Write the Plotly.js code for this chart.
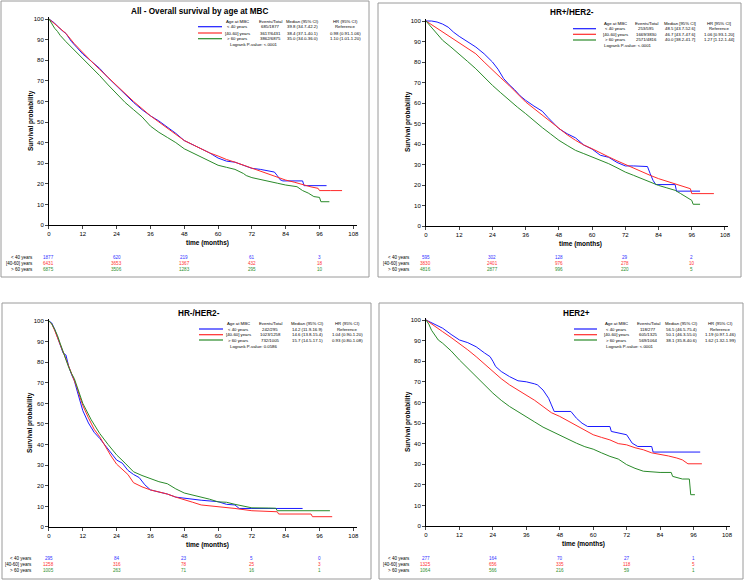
<!DOCTYPE html>
<html><head><meta charset="utf-8">
<script src="https://cdn.plot.ly/plotly-3.0.1.min.js"></script>
<style>html,body{margin:0;padding:0;background:#fff}#c{width:745px;height:581px}</style>
</head><body><div id="c"></div>
<script>
// ---------------- DATA ----------------
const groups = ['< 40 years','[40-60] years','> 60 years'];
const riskTimes = [0,24,48,72,96];

// Panel 1: All
const all_t_lt40 = [0,1,2,3,4,5,6,7,8,10,12,15,18,21,24,27,30,33,36,39,42,45,48,51,54,57,60,63,66,69,72,75,78,80,81,82,83,86,90,90.5,93,98.5];
const all_s_lt40 = [100,99,98,96.5,95,94,93,91,89,86,83,79.5,76,71.5,67.5,63,59.5,56,53,50.5,47.5,44.5,41,39,37,35,32.5,31,30.5,29,27.5,27,26,25.7,24,22,21.4,21.4,21.4,19.1,19.1,19.1];
const all_t_mid = [0,3,6,9,12,15,18,21,24,27,30,33,36,39,42,45,48,51,54,57,60,63,66,69,72,75,78,81,84,87,90,93,95.5,96,100,104];
const all_s_mid = [100,96.5,93,88,83.5,79.5,75.5,71.5,67.5,63.5,60,56.5,53,50,47,44,41,39,37,35,33.5,31.8,30.5,29,27.5,26,24.5,23,21.8,20.8,19.5,18.5,17.8,16.7,16.7,16.7];
const all_t_gt60 = [0,1,2,3,4,6,9,12,15,18,21,24,27,30,33,36,39,42,45,48,51,54,57,60,63,66,69,70,72,75,78,81,84,87,88,90,92,94,96,96.5,99.5];
const all_s_gt60 = [100,97.5,95.5,94,92,89,85,80.5,76.5,72.5,68,63.5,59.5,56,52.5,48,45,42.5,40,37,35,33,31,29,28,27,25,24,23,22,21,20.3,19.4,19,18.6,16.7,15.5,13.8,13.4,11.3,11.3];
const all_risk_lt40 = [1877,620,219,61,3];
const all_risk_mid = [6431,3653,1367,432,18];
const all_risk_gt60 = [6875,3506,1283,295,10];
const all_events = ['685/1877','3617/6431','3862/6875'];
const all_median = ['39.8 (34.7-42.2)','38.4 (37.1-40.1)','35.0 (34.0-36.0)'];
const all_hr = ['Reference','0.98 (0.91-1.06)','1.10 (1.01-1.20)'];
const all_logrank = 'Logrank P-value: <.0001';

// Panel 2: HR+/HER2-
const hrp_t_lt40 = [0,2,4,6,8,10,12,15,18,21,24,26,28,30,32,34,36,39,42,44,46,48,51,54,57,60,63,66,69,72,75,78,80,81,82,83,86,90,90.5,94,99];
const hrp_s_lt40 = [100,100,99.5,98.5,97,94.5,92.5,90,87.3,84,80,76.5,72,69,66.5,63.5,61.3,58.5,56,53,50.5,47.5,45,43,39.5,37.5,34.5,33.5,31,29.3,29.3,29.3,29,25.5,22.3,20.2,20.2,20.2,17,17,17];
const hrp_t_mid = [0,3,6,9,12,15,18,21,24,27,30,33,36,39,42,45,48,51,54,57,60,63,66,69,72,75,78,81,84,87,90,93,95.5,96,100,104];
const hrp_s_mid = [100,97.3,94.6,92,89.3,86.8,84,80,76,72.3,68.6,64.5,60.5,57.3,54,50.7,47.5,44.5,41.8,39.5,37.7,35.5,33.7,31.8,30,28,26.3,24.7,23.1,21.8,20.6,19.3,18.2,15.8,15.8,15.8];
const hrp_t_gt60 = [0,3,6,9,12,15,18,21,24,27,30,33,36,39,42,45,48,51,54,57,60,63,66,69,72,75,78,81,84,87,90,92,94,96,96.5,99];
const hrp_s_gt60 = [100,95.2,90.6,87.3,84,80.3,76.7,72.6,68.6,65,61.3,58,54.8,51.3,48,44.9,41.8,39.3,36.9,35.3,33.7,32,30.4,28.4,26.3,24.7,23.1,21.5,19.8,18.6,17.4,15.8,14.1,12.5,10.6,10.6];
const hrp_risk_lt40 = [595,302,128,29,2];
const hrp_risk_mid = [3830,2401,976,278,10];
const hrp_risk_gt60 = [4816,2877,996,220,5];
const hrp_events = ['253/595','1669/3830','2571/4816'];
const hrp_median = ['48.5 [43.7-52.6]','46.7 [43.7-47.6]','40.0 [38.2-41.7]'];
const hrp_hr = ['Reference','1.06 [0.93-1.20]','1.27 [1.12-1.44]'];
const hrp_logrank = 'Logrank P-value: <.0001';

// Panel 3: HR-/HER2-
const hrn_t_lt40 = [0,1,2,3,4,5,6,7,8,9,10,11,12,14,16,18,20,22,24,26,28,30,32,34,36,39,42,45,48,54,60,63,66,67.5,72,80,90];
const hrn_s_lt40 = [100,99,96,92,88,84.5,83.5,78,74,71,66,61,56.5,50.5,46,43,39.5,35.5,32.5,31,27.5,25.5,24,20.5,18,17,16,14.5,13.9,13,12.3,11,10.7,9,9,9,9];
const hrn_t_mid = [0,1,2,3,4,5,6,7,8,9,10,11,12,14,16,18,20,22,24,26,28,30,33,36,39,42,45,48,51,54,57,60,66,72,78,81,81.5,90,93,93.5,100.5];
const hrn_s_mid = [100,98.5,95.5,92,88.5,85,82,78.5,75,71.5,67.5,63,59,53,47.5,43.8,39,34.5,30.5,28,25.5,21.5,19.5,18,17,16,14.5,13.4,12,10.7,10.3,9.9,9,7.9,7.5,7.4,6.3,6.3,6.3,5,5];
const hrn_t_gt60 = [0,1,2,3,4,5,6,7,8,9,10,11,12,15,18,21,24,27,30,33,36,39,42,45,48,51,54,57,60,63,66,72,78,80.5,81,90,99.7];
const hrn_s_gt60 = [100,98.5,96,93,89,85,81.5,77.5,74.5,72,68,64,60,52,45.4,40,35,31,26.8,25,23.6,22,21,18.5,16.5,15.5,14.7,13.5,12.2,12,11,9.3,9.2,9.1,7.9,7.9,7.9];
const hrn_risk_lt40 = [295,84,23,5,0];
const hrn_risk_mid = [1258,316,78,25,3];
const hrn_risk_gt60 = [1005,263,71,16,1];
const hrn_events = ['242/295','1023/1258','732/1005'];
const hrn_median = ['14.2 (11.9-16.9)','14.6 (13.8-15.4)','15.7 (14.5-17.1)'];
const hrn_hr = ['Reference','1.04 (0.90-1.20)','0.93 (0.80-1.08)'];
const hrn_logrank = 'Logrank P-value: 0.0586';

// Panel 4: HER2+
const her_t_lt40 = [0,3,6,9,12,15,18,21,23,24,25,27,30,33,36,39,40,42,44,45,46,52,54,56,58,66,66.5,72,73,74,76,81,81.5,98.4];
const her_s_lt40 = [100,98,96,93,90.3,89,87,84,82.2,80,77.4,75,72.5,70.5,70,69,68.5,66,62,58.8,55.6,55.6,52.3,49.9,48.3,48.3,45.9,44.3,42,40.2,38.6,38.6,35.9,35.9];
const her_t_mid = [0,3,6,9,12,15,18,21,24,27,30,33,36,39,42,45,48,51,54,57,60,63,66,69,72,75,78,81,84,87,90,92,94,99];
const her_s_mid = [100,97,94.3,91.5,88.7,85.5,82.2,78.5,75,71.5,68.5,66,63.7,61,58,55,53.2,51,48.6,46.5,44.3,43,41.8,40,39.4,38,37,35.5,34.9,34,33,32.1,30.2,30.2];
const her_t_gt60 = [0,1,2,3,4.4,6,9,12,15,18,21,24,27,30,33,36,39,42,45,48,51,54,57,60,63,66,69,72,75,78,84,88,88.5,92,94.5,95,96.5];
const her_s_gt60 = [100,98,95,93,90.3,88.7,85,80.6,76.5,72.5,68.5,64.5,61,58,55.5,53.2,50.5,48,46,44.3,42,40.2,38.5,37.3,35.5,33.8,32.5,29.8,28,26.6,26,26,24.1,22.8,22.8,15.2,15.2];
const her_risk_lt40 = [277,164,70,27,1];
const her_risk_mid = [1325,656,335,118,5];
const her_risk_gt60 = [1064,566,216,59,1];
const her_events = ['118/277','605/1325','569/1064'];
const her_median = ['56.5 (46.5-75.4)','50.1 (46.3-55.0)','38.1 (35.8-40.6)'];
const her_hr = ['Reference','1.19 (0.97-1.46)','1.62 (1.32-1.99)'];
const her_logrank = 'Logrank P-value: <.0001';

const titles = ['All - Overall survival by age at MBC','HR+/HER2-','HR-/HER2-','HER2+'];
const xTicks = [0,12,24,36,48,60,72,84,96,108];
const yTicks = [0,10,20,30,40,50,60,70,80,90,100];

// ---------------- BUILD ----------------
const W=745,H=581;
const px=x=>x/W, py=y=>1-y/H;
const lineColors = ['#1a1aff','#ff2a2a','#2a8a2a'];
const textColors = ['#3333ff','#ff3333','#2f8f2f'];
const FONT = 'Liberation Sans, Arial, sans-serif';

const panels = [
 {curves:[[all_t_lt40,all_s_lt40],[all_t_mid,all_s_mid],[all_t_gt60,all_s_gt60]],
  risk:[all_risk_lt40,all_risk_mid,all_risk_gt60], events:all_events, median:all_median, hr:all_hr, logrank:all_logrank,
  hdr:['Age at MBC','Events/Total','Median (95% CI)','HR (95% CI)']},
 {curves:[[hrp_t_lt40,hrp_s_lt40],[hrp_t_mid,hrp_s_mid],[hrp_t_gt60,hrp_s_gt60]],
  risk:[hrp_risk_lt40,hrp_risk_mid,hrp_risk_gt60], events:hrp_events, median:hrp_median, hr:hrp_hr, logrank:hrp_logrank,
  hdr:['Age at MBC','Events/Total','Median [95% CI]','HR [95% CI]']},
 {curves:[[hrn_t_lt40,hrn_s_lt40],[hrn_t_mid,hrn_s_mid],[hrn_t_gt60,hrn_s_gt60]],
  risk:[hrn_risk_lt40,hrn_risk_mid,hrn_risk_gt60], events:hrn_events, median:hrn_median, hr:hrn_hr, logrank:hrn_logrank,
  hdr:['Age at MBC','Events/Total','Median (95% CI)','HR (95% CI)']},
 {curves:[[her_t_lt40,her_s_lt40],[her_t_mid,her_s_mid],[her_t_gt60,her_s_gt60]],
  risk:[her_risk_lt40,her_risk_mid,her_risk_gt60], events:her_events, median:her_median, hr:her_hr, logrank:her_logrank,
  hdr:['Age at MBC','Events/Total','Median (95% CI)','HR (95% CI)']}
];

// geometry (pixels)
const geo = [
 {xd:[0.06577,0.47879], yd:[0.61274,0.97084], box:[1,1,369,277], title:[200,11], xt:[207,243], yt:[31,121],
  lineX:[198,222], cols:[237,270,302,345], rowsY:[21,26.7,33,38.7], logY:44.3, logX:228, labelX:35, riskY:[257,263,269]},
 {xd:[0.57181,0.97758], yd:[0.61102,0.96738], box:[378,3,741,277], title:[572,13], xt:[580,243.7], yt:[408,122],
  lineX:[573,596], cols:[615,646,680,719], rowsY:[23.3,28.7,34.3,40], logY:45.7, logX:602, labelX:412, riskY:[257,263,269]},
 {xd:[0.06577,0.47879], yd:[0.09294,0.45105], box:[2,303,371,579], title:[199,313], xt:[207,545], yt:[30,422],
  lineX:[199,223], cols:[238,270,307,347], rowsY:[323.3,329,334.7,340], logY:346, logX:228, labelX:34, riskY:[558,564,570.5]},
 {xd:[0.57181,0.98027], yd:[0.09466,0.45277], box:[379,303,743,579], title:[576,313], xt:[583,544], yt:[408,422],
  lineX:[574,597], cols:[616,648,681,720], rowsY:[323.3,329,334.7,340], logY:346, logX:604, labelX:412, riskY:[558,564,570]}
];

const traces=[], annotations=[], shapes=[];
const layout = {width:W,height:H,margin:{l:0,r:0,t:0,b:0},paper_bgcolor:'#fff',plot_bgcolor:'#fff',
  showlegend:false,font:{family:FONT,color:'#000'}};

panels.forEach((p,i)=>{
  const g=geo[i]; const sfx = i===0?'':String(i+1);
  const xa='x'+sfx, ya='y'+sfx;
  layout['xaxis'+sfx] = {domain:g.xd, anchor:ya, range:[0,109.2], tickvals:xTicks, ticks:'outside', ticklen:3, tickwidth:1,
    showline:true, linecolor:'#000', linewidth:1, showgrid:false, zeroline:false, tickfont:{size:6,family:FONT}, fixedrange:true};
  layout['yaxis'+sfx] = {domain:g.yd, anchor:xa, range:[0,101], tickvals:yTicks, ticks:'outside', ticklen:3, tickwidth:1,
    showline:true, linecolor:'#000', linewidth:1, showgrid:false, zeroline:false, tickfont:{size:6,family:FONT}, fixedrange:true};
  p.curves.forEach((c,k)=>{
    traces.push({x:c[0],y:c[1],xaxis:xa,yaxis:ya,mode:'lines',line:{color:lineColors[k],width:1},hoverinfo:'skip',showlegend:false});
  });
  // border
  shapes.push({type:'rect',xref:'paper',yref:'paper',x0:px(g.box[0]),x1:px(g.box[2]),y0:py(g.box[1]),y1:py(g.box[3]),line:{color:'#9a9a9a',width:1}});
  // title
  annotations.push({xref:'paper',yref:'paper',x:px(g.title[0]),y:py(g.title[1]),text:'<b>'+titles[i]+'</b>',showarrow:false,
    xanchor:'center',yanchor:'middle',font:{size:8.2,family:FONT}});
  // axis titles
  annotations.push({xref:'paper',yref:'paper',x:px(g.xt[0]),y:py(g.xt[1]),text:'<b>time (months)</b>',showarrow:false,
    xanchor:'center',yanchor:'middle',font:{size:6.5,family:FONT}});
  annotations.push({xref:'paper',yref:'paper',x:px(g.yt[0]),y:py(g.yt[1]),text:'<b>Survival probability</b>',showarrow:false,textangle:-90,
    xanchor:'center',yanchor:'middle',font:{size:6.5,family:FONT}});
  // legend header
  p.hdr.forEach((h,j)=>annotations.push({xref:'paper',yref:'paper',x:px(g.cols[j]),y:py(g.rowsY[0]),text:h,showarrow:false,
    xanchor:'center',yanchor:'middle',font:{size:4.3,family:FONT}}));
  groups.forEach((gr,k)=>{
    const yy = py(g.rowsY[k+1]);
    shapes.push({type:'line',xref:'paper',yref:'paper',x0:px(g.lineX[0]),x1:px(g.lineX[1]),y0:yy,y1:yy,line:{color:lineColors[k],width:1.2}});
    [gr,p.events[k],p.median[k],p.hr[k]].forEach((tx,j)=>annotations.push({xref:'paper',yref:'paper',x:px(g.cols[j]),y:yy,text:tx,
      showarrow:false,xanchor:'center',yanchor:'middle',font:{size:4.3,family:FONT}}));
    // risk table
    annotations.push({xref:'paper',yref:'paper',x:px(g.labelX),y:py(g.riskY[k]),text:gr,showarrow:false,xanchor:'right',yanchor:'middle',
      font:{size:4.5,family:FONT}});
    p.risk[k].forEach((v,m)=>annotations.push({xref:xa,yref:'paper',x:riskTimes[m],y:py(g.riskY[k]),text:String(v),showarrow:false,
      xanchor:'center',yanchor:'middle',font:{size:4.6,family:FONT,color:textColors[k]}}));
  });
  annotations.push({xref:'paper',yref:'paper',x:px(g.logX),y:py(g.logY),text:p.logrank,showarrow:false,xanchor:'left',yanchor:'middle',
    font:{size:4.3,family:FONT}});
});
layout.annotations=annotations; layout.shapes=shapes;
Plotly.newPlot('c',traces,layout,{staticPlot:true,displayModeBar:false});
</script></body></html>
